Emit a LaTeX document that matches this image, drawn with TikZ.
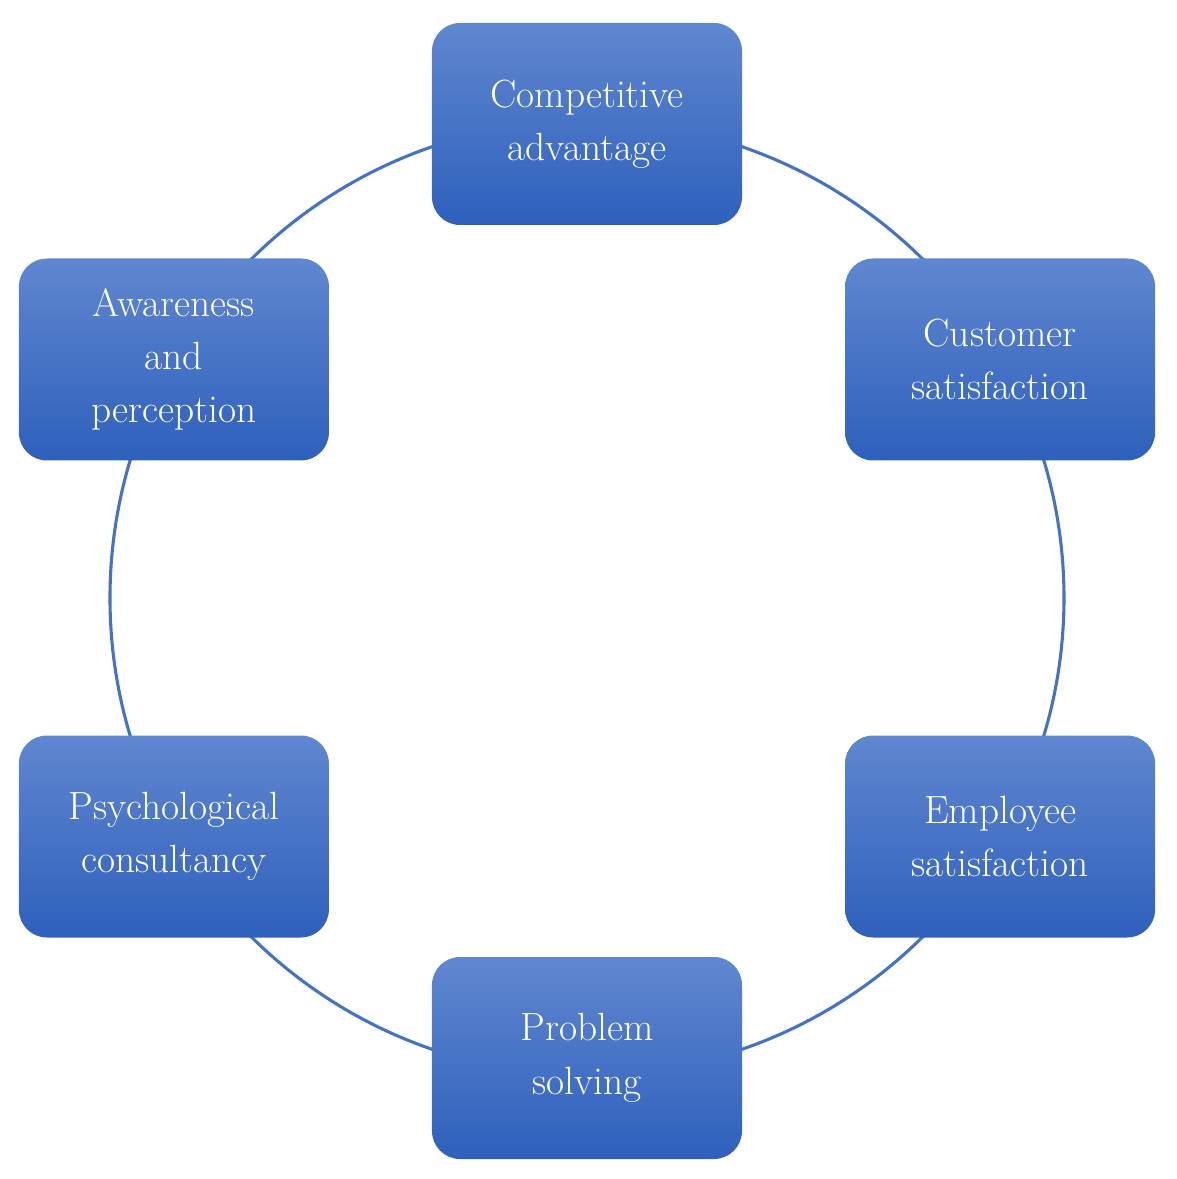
\documentclass[tikz,border=0pt]{standalone}
\usepackage{tikz}
\usetikzlibrary{positioning}
\definecolor{ringcolor}{RGB}{68, 114, 196}
\definecolor{boxtop}{RGB}{96, 135, 208}
\definecolor{boxbottom}{RGB}{46, 96, 188}
\tikzstyle{cyclebox} = [
    rectangle,
    rounded corners=0.7cm,
    minimum width=7.75cm,
    minimum height=5.05cm,
    align=center,
    text=white,
    top color=boxtop,
    bottom color=boxbottom,
    draw=none,
    font=\fontsize{28}{38}\selectfont
]
\tikzstyle{ring} = [
    line width=2.2pt,
    color=ringcolor
]
\begin{document}
\begin{tikzpicture}

\useasboundingbox (-14.675, 14.95) rectangle (14.75, -14.525);

% Ring
\draw[ring] (0, 0) circle (11.925cm);

% Boxes round the ring
\node[cyclebox] (advantage) at (90:11.85) {Competitive\\advantage};
\node[cyclebox] (customer) at (30:11.925) {Customer\\satisfaction};
\node[cyclebox] (employee) at (-30:11.925) {Employee\\satisfaction};
\node[cyclebox] (problem) at (-90:11.5) {Problem\\solving};
\node[cyclebox] (consultancy) at (210:11.925) {Psychological\\consultancy};
\node[cyclebox] (awareness) at (150:11.925) {Awareness\\and\\perception};

\end{tikzpicture}
\end{document}
